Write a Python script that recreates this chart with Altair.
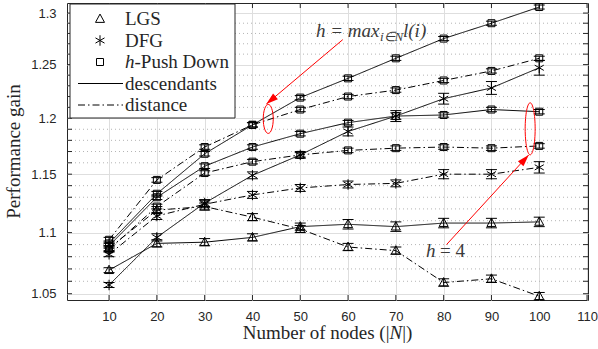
import altair as alt
import pandas as pd

# ---------------- data ----------------
nodes = [10, 20, 30, 40, 50, 60, 70, 80, 90, 100]

hpd_max_desc = [1.091, 1.133, 1.168, 1.194, 1.219, 1.237, 1.256, 1.275, 1.290, 1.306]
hpd_max_dist = [1.094, 1.145, 1.174, 1.194, 1.208, 1.220, 1.226, 1.235, 1.244, 1.256]
hpd_h4_desc = [1.089, 1.130, 1.157, 1.174, 1.186, 1.196, 1.202, 1.203, 1.208, 1.206]
hpd_h4_dist = [1.086, 1.122, 1.151, 1.161, 1.167, 1.171, 1.173, 1.174, 1.173, 1.175]
dfg_desc = [1.057, 1.096, 1.125, 1.149, 1.167, 1.188, 1.202, 1.218, 1.228, 1.247]
dfg_dist = [1.082, 1.114, 1.124, 1.132, 1.138, 1.141, 1.142, 1.150, 1.150, 1.156]
lgs_desc = [1.069, 1.091, 1.092, 1.096, 1.105, 1.107, 1.105, 1.108, 1.108, 1.109]
lgs_dist = [1.087, 1.119, 1.122, 1.113, 1.103, 1.088, 1.085, 1.059, 1.062, 1.048]

err_hpd_max_desc = [0.002] * 10
err_hpd_max_dist = [0.002] * 10
err_hpd_h4_desc = [0.002, 0.002, 0.002, 0.002, 0.002, 0.002, 0.003, 0.002, 0.002, 0.002]
err_hpd_h4_dist = [0.002] * 10
err_dfg_desc = [0.002, 0.003, 0.003, 0.003, 0.003, 0.004, 0.005, 0.005, 0.006, 0.007]
err_dfg_dist = [0.002, 0.003, 0.003, 0.003, 0.003, 0.003, 0.003, 0.004, 0.004, 0.005]
err_lgs_desc = [0.002, 0.003, 0.003, 0.003, 0.003, 0.004, 0.004, 0.004, 0.004, 0.004]
err_lgs_dist = [0.002, 0.003, 0.003, 0.003, 0.003, 0.003, 0.003, 0.003, 0.003, 0.003]

x_ticks = [10, 20, 30, 40, 50, 60, 70, 80, 90, 100, 110]
y_major = [1.05, 1.1, 1.15, 1.2, 1.25, 1.3]
y_minor = [1.06, 1.07, 1.08, 1.09, 1.11, 1.12, 1.13, 1.14, 1.16, 1.17, 1.18, 1.19,
           1.21, 1.22, 1.23, 1.24, 1.26, 1.27, 1.28, 1.29]

legend_marker_labels = ["LGS", "DFG", "-Push Down"]
legend_line_labels = ["descendants", "distance"]
x_title_parts = ["Number of nodes (|", "N", "|)"]
y_title = "Performance gain"

# annotations (data space)
arrow_x0 = [58.9, 80.6]
arrow_y0 = [1.274, 1.090]
arrow_x1 = [42.9, 97.8]
arrow_y1 = [1.213, 1.167]
ellipse_x = [43.3, 98.1]
ellipse_y = [1.1994, 1.1904]

# ---------------- build table ----------------
series = [
    ("hPD", "max", "descendants", hpd_max_desc, err_hpd_max_desc),
    ("hPD", "max", "distance", hpd_max_dist, err_hpd_max_dist),
    ("hPD", "h4", "descendants", hpd_h4_desc, err_hpd_h4_desc),
    ("hPD", "h4", "distance", hpd_h4_dist, err_hpd_h4_dist),
    ("DFG", "-", "descendants", dfg_desc, err_dfg_desc),
    ("DFG", "-", "distance", dfg_dist, err_dfg_dist),
    ("LGS", "-", "descendants", lgs_desc, err_lgs_desc),
    ("LGS", "-", "distance", lgs_dist, err_lgs_dist),
]
rows = []
for method, h, metric, ys, es in series:
    for xv, yv, ev in zip(nodes, ys, es):
        rows.append(dict(x=xv, y=yv, lo=yv - ev, hi=yv + ev, method=method,
                         metric=metric, series=f"{method}-{h}-{metric}"))
df = pd.DataFrame(rows)

W, H = 521, 297
xs = alt.Scale(domain=[1.2, 110.2], nice=False, zero=False)
ysc = alt.Scale(type="log", domain=[1.045, 1.31], nice=False)

INK = "#262626"
SERIF = "Liberation Serif"

x_axis = alt.Axis(values=x_ticks, grid=True, gridColor="#dedede", gridWidth=1,
                  ticks=False, tickSize=0, domain=False, labelFont="Liberation Sans",
                  labelFontSize=13, labelColor=INK, labelPadding=10,
                  labelFlush=False, labelOverlap=False, title=None)
y_axis = alt.Axis(values=y_major, format="~g", grid=True, gridColor="#dedede",
                  gridWidth=1, ticks=False, tickSize=0, domain=False,
                  labelFont="Liberation Sans", labelFontSize=13, labelColor=INK,
                  labelPadding=11, labelFlush=False, labelOverlap=False, title=None)

X = alt.X("x:Q", scale=xs, axis=x_axis, title=None)
Y = alt.Y("y:Q", scale=ysc, axis=y_axis, title=None)
Xn = alt.X("x:Q", scale=xs, title=None)
Yn = alt.Y("y:Q", scale=ysc, title=None)

base = alt.Chart(df)

# axes + major grid
axes_layer = base.mark_point(opacity=0).encode(x=X, y=Y)

# minor dotted grid
minor = alt.Chart(pd.DataFrame({"y": y_minor})).mark_rule(
    color="#b4b4b4", strokeDash=[1, 3], strokeWidth=1
).encode(y=Yn, x=alt.value(0), x2=alt.value(W))

# inward ticks
yt_all = sorted(y_major + y_minor)
ytick_df = pd.DataFrame({"y": yt_all})
xtick_df = pd.DataFrame({"x": x_ticks})
tick_style = dict(color=INK, strokeWidth=1)
ticks = [
    alt.Chart(ytick_df).mark_rule(**tick_style).encode(y=Yn, x=alt.value(0), x2=alt.value(5)),
    alt.Chart(ytick_df).mark_rule(**tick_style).encode(y=Yn, x=alt.value(W), x2=alt.value(W - 5)),
    alt.Chart(xtick_df).mark_rule(**tick_style).encode(x=Xn, y=alt.value(H), y2=alt.value(H - 5)),
    alt.Chart(xtick_df).mark_rule(**tick_style).encode(x=Xn, y=alt.value(0), y2=alt.value(5)),
]

dash_scale = alt.Scale(domain=["descendants", "distance"], range=[[1, 0], [7, 3, 1.5, 3]])
lines = base.mark_line(color="black", strokeWidth=1).encode(
    x=Xn, y=Yn, detail="series:N",
    strokeDash=alt.StrokeDash("metric:N", scale=dash_scale, legend=None))

Ylo = alt.Y("lo:Q", scale=ysc, title=None)
Yhi = alt.Y("hi:Q", scale=ysc, title=None)
err = base.mark_rule(color="black", strokeWidth=1).encode(x=Xn, y=Ylo, y2="hi:Q")
CAP = "M-1,0L1,0"
cap_lo = base.mark_point(shape=CAP, size=121, filled=False, color="black", strokeWidth=1,
                         opacity=1).encode(x=Xn, y=Ylo)
cap_hi = base.mark_point(shape=CAP, size=121, filled=False, color="black", strokeWidth=1,
                         opacity=1).encode(x=Xn, y=Yhi)

TRI = "M0,-1.1L1,0.75L-1,0.75Z"
SQ = "M-1,-1L1,-1L1,1L-1,1Z"
STAR = "M0,-1L0,1M-0.866,-0.5L0.866,0.5M-0.866,0.5L0.866,-0.5"
shape_of = {"LGS": (TRI, 81), "DFG": (STAR, 110), "hPD": (SQ, 49)}
markers = []
for m, (shp, sz) in shape_of.items():
    markers.append(base.transform_filter(alt.datum.method == m).mark_point(
        shape=shp, size=sz, filled=False, color="black", strokeWidth=1, opacity=1
    ).encode(x=Xn, y=Yn))

# annotations
RED = "#ff0000"
ann_df = pd.DataFrame({"x": arrow_x0, "y": arrow_y0, "x2": arrow_x1, "y2": arrow_y1,
                       "ang": [230, 42]})
arrow_lines = alt.Chart(ann_df).mark_rule(color=RED, strokeWidth=1).encode(
    x=Xn, y=Yn, x2="x2:Q", y2="y2:Q")
HEAD = "M0,0L0.5,1.6L-0.5,1.6Z"
heads = alt.Chart(ann_df).mark_point(shape=HEAD, size=225, filled=True, color=RED,
                                     opacity=1).encode(
    x=alt.X("x2:Q", scale=xs, title=None),
    y=alt.Y("y2:Q", scale=ysc, title=None),
    angle=alt.Angle("ang:Q", scale=None))


def ellipse_path(a):
    k = 0.5523
    return (f"M0,-1C{k*a:.3f},-1 {a:.3f},{-k:.3f} {a:.3f},0"
            f"C{a:.3f},{k:.3f} {k*a:.3f},1 0,1"
            f"C{-k*a:.3f},1 {-a:.3f},{k:.3f} {-a:.3f},0"
            f"C{-a:.3f},{-k:.3f} {-k*a:.3f},-1 0,-1Z")


ell = []
for i, (hh, ww) in enumerate([(29, 10), (52, 10)]):
    s = hh / 2
    ell.append(alt.Chart(pd.DataFrame({"x": [ellipse_x[i]], "y": [ellipse_y[i]]})).mark_point(
        shape=ellipse_path((ww / 2) / s), size=(2 * s) ** 2, filled=False, color=RED,
        strokeWidth=1, opacity=1).encode(x=Xn, y=Yn))

one = pd.DataFrame({"a": [0]})
TXT = "#3a3a3a"


def txt(t, x, y, size=19, style="normal", color=TXT, align="left", angle=0):
    return alt.Chart(one).mark_text(text=t, font=SERIF, fontSize=size, fontStyle=style,
                                    color=color, align=align, baseline="middle",
                                    angle=angle).encode(
        x=alt.value(x), y=alt.value(y))


ann_text = [
    txt("h = max", 249, 28, style="italic"),
    txt("i∈N", 313, 34, size=13, style="italic"),
    txt("l(i)", 336, 28, style="italic"),
    txt("h", 359, 248, style="italic"),
    txt("= 4", 373, 248),
]

# axis titles as text (serif, italic N)
xt0 = 175.7
titles = [
    txt(x_title_parts[0], xt0, 330, color=INK),
    txt(x_title_parts[1], xt0 + 146.8, 330, style="italic", color=INK),
    txt(x_title_parts[2], xt0 + 159.5, 330, color=INK),
    txt(y_title, -53, H / 2, color=INK, align="center", angle=270),
]

# legend
leg = [alt.Chart(one).mark_rect(fill="white", stroke=INK, strokeWidth=1).encode(
    x=alt.value(3), x2=alt.value(168), y=alt.value(1), y2=alt.value(115))]
leg_shapes = [(TRI, 81), (STAR, 110), (SQ, 49)]
for i, lab in enumerate(legend_marker_labels):
    yy = 16 + 21.5 * i
    shp, sz = leg_shapes[i]
    leg.append(alt.Chart(one).mark_point(shape=shp, size=sz, filled=False, color="black",
                                         strokeWidth=1, opacity=1).encode(
        x=alt.value(33), y=alt.value(yy)))
    if i == 2:
        leg.append(txt("h", 58, yy, size=19, style="italic", color=INK))
        leg.append(txt(lab, 67.5, yy, size=19, color=INK))
    else:
        leg.append(txt(lab, 58, yy, size=19, color=INK))
dashes = [[1, 0], [7, 3, 1.5, 3]]
for j, lab in enumerate(legend_line_labels):
    yy = 16 + 21.5 * (3 + j)
    leg.append(alt.Chart(one).mark_rule(color="black", strokeWidth=1, strokeDash=dashes[j]).encode(
        x=alt.value(11), x2=alt.value(56), y=alt.value(yy)))
    leg.append(txt(lab, 58, yy, size=19, color=INK))

chart = alt.layer(
    axes_layer, minor, *ticks, lines, err, cap_lo, cap_hi, *markers,
    arrow_lines, heads, *ell, *ann_text, *titles, *leg
).properties(
    width=W, height=H,
    padding={"left": 67, "top": 3, "right": 10, "bottom": 49},
    autosize=alt.AutoSizeParams(type="none"),
    background="white",
).configure_view(stroke=INK, strokeWidth=1)

chart.save("out.html", embed_options={"renderer": "svg", "actions": False})
